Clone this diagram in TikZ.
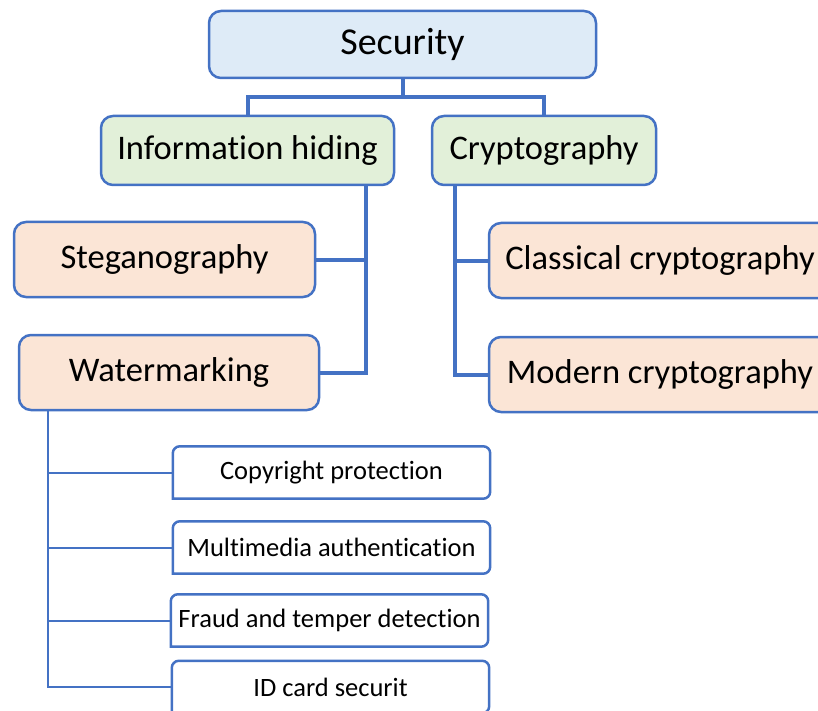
\documentclass[tikz,border=0pt]{standalone}
\usepackage{fontspec}
\setmainfont{Carlito}[Ligatures=NoCommon]
\definecolor{frameblue}{HTML}{4472C4}
\definecolor{rootfill}{HTML}{DEEBF7}
\definecolor{midfill}{HTML}{E2F0D9}
\definecolor{leaffill}{HTML}{FBE5D6}
\tikzset{
  box/.style={draw=frameblue, line width=2.5pt, rounded corners=12pt, inner sep=0pt, text=black},
  rootbox/.style={box, fill=rootfill, font=\fontsize{38}{40}\selectfont},
  midbox/.style={box, fill=midfill, font=\fontsize{34.5}{36}\selectfont},
  subbox/.style={box, fill=leaffill, font=\fontsize{34.5}{36}\selectfont},
  usebox/.style={inner sep=0pt, minimum width=317pt, minimum height=52pt, font=\fontsize{26.5}{28}\selectfont},
  useframe/.style={draw=frameblue, line width=2.5pt, rounded corners=7pt, line cap=rect},
  trunk/.style={draw=frameblue, line width=4pt},
  twig/.style={draw=frameblue, line width=2pt},
}
\begin{document}
\begin{tikzpicture}[x=1pt, y=-1pt]
\useasboundingbox (0,0) rectangle (818,711);
\clip (0,0) rectangle (818,711);

% top level
\node[rootbox, minimum width=387pt, minimum height=67pt] (sec) at (402.5,44.5) {Security};

% second level
\node[midbox, minimum width=293pt, minimum height=69pt] (hide) at (247.5,150.5) {Information hiding};
\node[midbox, minimum width=224pt, minimum height=69pt] (crypt) at (544,150.5) {Cryptography};

% third level
\node[subbox, minimum width=301pt, minimum height=75pt] (steg) at (164.5,259.5) {Steganography};
\node[subbox, minimum width=300pt, minimum height=75pt] (wm) at (169,372.5) {Watermarking};
\node[subbox, minimum width=342pt, minimum height=75pt] (clas) at (660,260.5) {Classical cryptography};
\node[subbox, minimum width=342pt, minimum height=75pt] (mod) at (660,374.5) {Modern cryptography};

% watermarking applications
\node[usebox] (cp) at (331.5,472.5) {Copyright protection};
\node[usebox] (ma) at (331.5,547.5) {Multimedia authentication};
\node[usebox] (fd) at (329.5,620.5) {Fraud and temper detection};
\node[usebox] (id) at (330.5,687) {ID card securit};
\foreach \n in {cp,ma,fd,id}
  \draw[useframe] (\n.south west) -- (\n.north west) -- (\n.north east) -- (\n.south east) -- (\n.south west);

% connectors from the root
\coordinate (split) at (402.5,97);
\draw[trunk] (sec.south) -- (split);
\draw[trunk] (hide.north) |- (split) -| (crypt.north);

% information hiding branch
\coordinate (hbus) at (366,185);
\draw[trunk] (hbus) |- (wm.east);
\draw[trunk] (steg.east) -- (steg.east -| hbus);

% cryptography branch
\coordinate (cbus) at (455,185);
\draw[trunk] (cbus) |- (mod.west);
\draw[trunk] (clas.west) -- (clas.west -| cbus);

% watermarking applications bus
\coordinate (wbus) at (48,410);
\draw[twig] (wbus) |- (id.west);
\foreach \n in {cp,ma,fd}
  \draw[twig] (\n.west) -- (\n.west -| wbus);
\end{tikzpicture}
\end{document}
